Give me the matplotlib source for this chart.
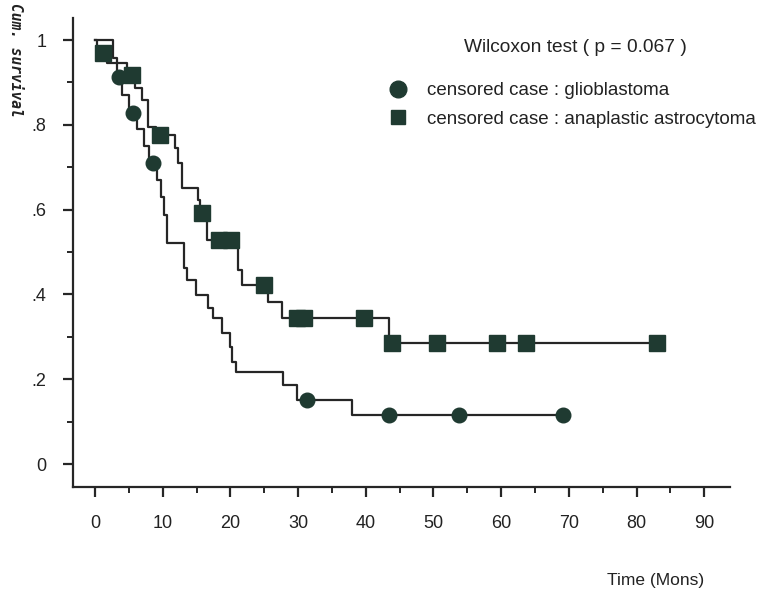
import numpy as np
import matplotlib
matplotlib.use("Agg")
import matplotlib.pyplot as plt
from matplotlib.lines import Line2D
from matplotlib.ticker import MultipleLocator, FixedLocator, FixedFormatter

plt.rcParams["font.family"] = ["Liberation Sans", "DejaVu Sans"]

# glioblastoma: step times (months) and survival after each step
glio_times = [0, 2.6, 3.2, 4.0, 5.0, 6.2, 7.2, 8.0, 9.2, 9.8, 10.2, 10.6, 13.1, 13.6,
              14.9, 16.7, 17.4, 18.7, 19.9, 20.3, 20.8, 27.8, 29.8, 38.0]
glio_surv = [1.0, 0.957, 0.913, 0.87, 0.828, 0.79, 0.75, 0.71, 0.67, 0.63, 0.587, 0.521,
             0.462, 0.434, 0.398, 0.368, 0.344, 0.309, 0.276, 0.24, 0.218, 0.186, 0.151,
             0.116]
glio_end = 69.1
glio_censored = [3.5, 5.6, 8.6, 31.3, 43.4, 53.8, 69.1]

# anaplastic astrocytoma
aa_times = [0, 0.3, 1.8, 4.8, 5.9, 7.0, 7.9, 9.0, 11.8, 12.3, 12.9, 15.2, 15.5, 16.5,
            21.1, 21.7, 25.5, 27.6, 43.5]
aa_surv = [1.0, 0.97, 0.945, 0.917, 0.887, 0.858, 0.795, 0.776, 0.745, 0.71, 0.651,
           0.623, 0.592, 0.528, 0.457, 0.422, 0.382, 0.345, 0.285]
aa_end = 83.0
aa_censored = [1.2, 5.5, 9.6, 15.8, 18.3, 20.1, 25.0, 29.9, 30.8, 39.7, 43.9, 50.5,
               59.4, 63.7, 83.0]

y_ticks = [0, 0.2, 0.4, 0.6, 0.8, 1.0]
y_ticklabels = ["0", ".2", ".4", ".6", ".8", "1"]
x_ticks = list(range(0, 100, 10))

label_glio = "censored case : glioblastoma"
label_aa = "censored case : anaplastic astrocytoma"
test_text = "Wilcoxon test ( p = 0.067 )"

LINE_COL = "#262626"
MARK_COL = "#1f3a31"


def plot_km(ax, times, surv, end, censored, marker, msize):
    t = np.append(times, end)
    s = np.append(surv, surv[-1])
    ax.step(t, s, where="post", color=LINE_COL, lw=1.6, zorder=2)
    # censored marks sit on the curve
    idx = np.searchsorted(times, censored, side="right") - 1
    cy = np.asarray(surv)[idx]
    ax.plot(censored, cy, ls="", marker=marker, ms=msize, color=MARK_COL,
            mec=MARK_COL, zorder=3)


fig = plt.figure(figsize=(7.69, 5.97), dpi=100)
ax = fig.add_axes([73 / 769, 1 - 487 / 597, (730 - 73) / 769, (487 - 18) / 597])

plot_km(ax, glio_times, glio_surv, glio_end, glio_censored, "o", 10.5)
plot_km(ax, aa_times, aa_surv, aa_end, aa_censored, "s", 11)

ax.set_xlim(-3.25, 93.8)
ax.set_ylim(-0.054, 1.052)

for side in ["top", "right"]:
    ax.spines[side].set_visible(False)
for side in ["left", "bottom"]:
    ax.spines[side].set_linewidth(1.6)
    ax.spines[side].set_color(LINE_COL)

ax.xaxis.set_major_locator(FixedLocator(x_ticks))
ax.xaxis.set_minor_locator(MultipleLocator(5))
ax.yaxis.set_major_locator(FixedLocator(y_ticks))
ax.yaxis.set_major_formatter(FixedFormatter(y_ticklabels))
ax.yaxis.set_minor_locator(MultipleLocator(0.1))
ax.tick_params(which="major", length=7, width=1.6, color=LINE_COL, labelsize=13,
               labelcolor="#222222")
ax.tick_params(which="minor", length=4, width=1.4, color=LINE_COL)
ax.tick_params(axis="x", which="major", pad=13)
ax.tick_params(axis="y", which="major", pad=12)

fig.text(15 / 769, 1 - 60 / 597, "Cum. survival", rotation=-90, ha="center",
         va="center", fontsize=10.5, fontweight="bold", style="italic",
         family="DejaVu Sans Mono", color="#222222")
fig.text(656 / 769, 1 - 580 / 597, "Time (Mons)", ha="center", va="center",
         fontsize=12.5, color="#222222")
fig.text(575 / 769, 1 - 47 / 597, test_text, ha="center", va="center",
         fontsize=13.8, color="#222222")

handles = [
    Line2D([], [], ls="", marker="o", ms=12, color=MARK_COL, label=label_glio),
    Line2D([], [], ls="", marker="s", ms=9.5, color=MARK_COL, label=label_aa),
]
leg = ax.legend(handles=handles, loc="upper left",
                bbox_to_anchor=(389 / 769, 1 - 82 / 597),
                bbox_transform=fig.transFigure, frameon=False, fontsize=13.5,
                borderpad=0, borderaxespad=0, handlelength=1.0,
                handletextpad=1.05, labelspacing=0.6)
for txt in leg.get_texts():
    txt.set_color("#222222")

fig.savefig("out.png", dpi=100)
